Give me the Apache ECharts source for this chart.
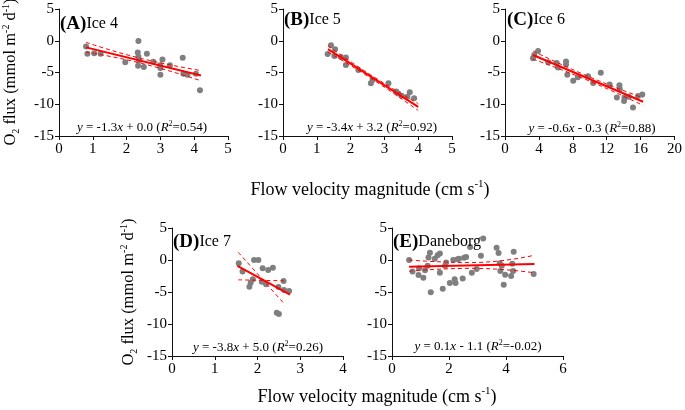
<!DOCTYPE html>
<html>
<head>
<meta charset="utf-8">
<script src="https://cdn.jsdelivr.net/npm/echarts@6.0.0/dist/echarts.min.js"></script>
<style>html,body{margin:0;padding:0;background:#fff}#c{width:685px;height:410px}</style>
</head>
<body>
<div id="c"></div>
<script>
// ---- tick labels ----
const yTicks = [-15, -10, -5, 0, 5];
const xTicksA = [0, 1, 2, 3, 4, 5];
const xTicksB = [0, 1, 2, 3, 4, 5];
const xTicksC = [0, 4, 8, 12, 16, 20];
const xTicksD = [0, 1, 2, 3, 4];
const xTicksE = [0, 2, 4, 6];

// ---- panel titles & equations ----
const panelTags = ['(A)', '(B)', '(C)', '(D)', '(E)'];
const panelNames = ['Ice 4', 'Ice 5', 'Ice 6', 'Ice 7', 'Daneborg'];
const slopes = ['-1.3', '-3.4', '-0.6', '-3.8', '0.1'];
const intercepts = ['+ 0.0', '+ 3.2', '- 0.3', '+ 5.0', '- 1.1'];
const r2s = ['0.54', '0.92', '0.88', '0.26', '-0.02'];

// ---- Ice 4 ----
const ice4Points = [[0.80,-0.9],[0.84,-2.05],[1.04,-1.95],[1.23,-2.05],[1.96,-3.4],[2.35,-0.05],[2.33,-1.85],[2.35,-2.5],[2.37,-3.1],[2.34,-3.95],[2.51,-4.15],[2.60,-2.05],[2.79,-3.3],[2.99,-3.85],[3.00,-4.3],[3.06,-2.95],[3.00,-5.35],[3.28,-3.85],[3.66,-2.68],[3.68,-5.2],[3.80,-5.35],[4.05,-5.2],[4.17,-7.8]];
const ice4Fit = [[0.8,-1.04],[4.2,-5.46]];
const ice4Upper = [[0.8,-0.25],[2.4,-2.75],[4.2,-4.7]];
const ice4Lower = [[0.8,-1.8],[2.4,-3.5],[4.2,-6.3]];

// ---- Ice 5 ----
const ice5Points = [[1.42,-0.7],[1.32,-2.1],[1.54,-1.35],[1.52,-2.4],[1.71,-2.55],[1.86,-2.65],[1.86,-3.8],[2.23,-4.6],[2.60,-6.7],[2.65,-6.2],[3.12,-6.7],[3.35,-8.0],[3.41,-8.3],[3.51,-8.65],[3.75,-8.1],[3.68,-8.8],[3.88,-9.05]];
const ice5Fit = [[1.33,-1.32],[4.0,-10.4]];
const ice5Upper = [[1.33,-0.8],[2.6,-5.4],[4.0,-9.9]];
const ice5Lower = [[1.33,-1.8],[2.6,-5.9],[4.0,-11.0]];

// ---- Ice 6 ----
const ice6Points = [[3.3,-2.75],[3.45,-2.25],[3.9,-1.6],[5.1,-3.4],[6.1,-3.5],[6.25,-4.2],[7.2,-3.25],[7.2,-3.75],[7.35,-5.35],[8.05,-6.3],[8.6,-5.75],[9.8,-5.6],[10.4,-6.65],[11.3,-5.05],[12.35,-6.9],[13.5,-7.0],[13.55,-7.6],[13.2,-8.95],[14.1,-8.95],[14.05,-9.5],[14.6,-8.8],[15.1,-10.5],[15.7,-8.7],[16.2,-8.45]];
const ice6Fit = [[3.3,-2.25],[16.3,-9.6]];
const ice6Upper = [[3.3,-1.6],[9.8,-5.6],[16.3,-9.0]];
const ice6Lower = [[3.3,-2.9],[9.8,-6.25],[16.3,-10.2]];

// ---- Ice 7 ----
const ice7Points = [[1.56,-0.5],[1.65,-1.8],[1.92,0.0],[2.02,0.0],[2.12,-1.3],[2.25,-1.57],[2.36,-1.2],[1.89,-3.0],[1.84,-3.55],[1.81,-4.17],[2.10,-3.4],[2.20,-3.8],[2.49,-4.2],[2.61,-3.3],[2.62,-4.7],[2.74,-4.85],[2.45,-8.25],[2.50,-8.45]];
const ice7Fit = [[1.53,-0.9],[2.76,-5.4]];
const ice7Upper = [[1.55,1.2],[2.62,-6.8]];
const ice7Lower = [[1.55,-3.1],[2.62,-3.25]];

// ---- Daneborg ----
const danePoints = [[0.6,0.0],[0.72,-1.8],[0.93,-2.35],[0.95,-1.3],[1.1,-2.76],[1.16,-1.6],[1.25,-0.9],[1.28,0.4],[1.33,1.15],[1.36,-5.05],[1.5,0.2],[1.6,0.75],[1.68,1.0],[1.68,-2.0],[1.78,-4.5],[1.86,-0.9],[1.9,-0.4],[2.03,-3.6],[2.15,0.0],[2.2,-3.0],[2.23,-3.6],[2.3,0.1],[2.35,0.2],[2.48,-2.9],[2.53,0.35],[2.6,0.45],[2.74,2.05],[2.8,-2.0],[2.97,-1.4],[3.12,0.65],[3.2,3.35],[3.67,1.9],[3.74,1.1],[3.78,-0.5],[3.8,-1.7],[3.85,-0.9],[3.92,-3.85],[3.97,-2.3],[4.18,-2.5],[4.22,-0.6],[4.25,-1.7],[4.27,1.3],[4.97,-2.2]];
const daneFit = [[0.6,-1.04],[5.0,-0.62]];
const daneUpper = [[0.6,0.0],[2.8,-0.4],[5.0,0.75]];
const daneLower = [[0.6,-1.75],[2.8,-1.3],[5.0,-2.0]];

const panels = [
  {pts: ice4Points, fit: ice4Fit, up: ice4Upper, lo: ice4Lower, xt: xTicksA},
  {pts: ice5Points, fit: ice5Fit, up: ice5Upper, lo: ice5Lower, xt: xTicksB},
  {pts: ice6Points, fit: ice6Fit, up: ice6Upper, lo: ice6Lower, xt: xTicksC},
  {pts: ice7Points, fit: ice7Fit, up: ice7Upper, lo: ice7Lower, xt: xTicksD},
  {pts: danePoints, fit: daneFit, up: daneUpper, lo: daneLower, xt: xTicksE}
];

// ---- layout ----
const FONT = 'Liberation Serif';
const grids = [
  {left: 59, top: 9, width: 169, height: 127},
  {left: 283, top: 9, width: 169, height: 127},
  {left: 505, top: 9, width: 170, height: 127},
  {left: 172, top: 228, width: 171, height: 128},
  {left: 392, top: 228, width: 171, height: 128}
];
const tagPos = [[60,24],[284,20],[507,20],[173,242],[393,242]];
const eqPos = [[142,128],[372,128],[592,129],[258,348],[478,347]];

const xAxis = [], yAxis = [], series = [], graphic = [];
panels.forEach((p, i) => {
  xAxis.push({
    type: 'value', gridIndex: i, min: p.xt[0], max: p.xt[p.xt.length-1],
    interval: p.xt[1]-p.xt[0],
    axisLine: {show: true, onZero: false, lineStyle: {color: '#111', width: 1}},
    axisTick: {show: true, inside: false, length: 4, lineStyle: {color: '#111'}},
    splitLine: {show: false},
    axisLabel: {show: true, color: '#000', fontFamily: FONT, fontSize: 15, margin: 6}
  });
  yAxis.push({
    type: 'value', gridIndex: i, min: yTicks[0], max: yTicks[yTicks.length-1],
    interval: yTicks[1]-yTicks[0],
    axisLine: {show: true, onZero: false, lineStyle: {color: '#111', width: 1}},
    axisTick: {show: true, inside: false, length: 4, lineStyle: {color: '#111'}},
    splitLine: {show: false},
    axisLabel: {show: true, color: '#000', fontFamily: FONT, fontSize: 15, margin: 5}
  });
  series.push({type: 'scatter', xAxisIndex: i, yAxisIndex: i, data: p.pts,
    symbolSize: 6, itemStyle: {color: '#7f7f7f', opacity: 1}, z: 2});
  series.push({type: 'line', xAxisIndex: i, yAxisIndex: i, data: p.up, smooth: true,
    showSymbol: false, lineStyle: {color: '#ff0000', width: 1, type: [4,3]}, z: 3});
  series.push({type: 'line', xAxisIndex: i, yAxisIndex: i, data: p.lo, smooth: true,
    showSymbol: false, lineStyle: {color: '#ff0000', width: 1, type: [4,3]}, z: 3});
  series.push({type: 'line', xAxisIndex: i, yAxisIndex: i, data: p.fit,
    showSymbol: false, lineStyle: {color: '#ff0000', width: 2}, z: 4});

  graphic.push({type: 'text', x: tagPos[i][0], y: tagPos[i][1], z: 10,
    style: {text: '{b|' + panelTags[i] + '}{n|' + panelNames[i] + '}',
      align: 'left', verticalAlign: 'middle', fill: '#000',
      rich: {b: {fontFamily: FONT, fontSize: 19, fontWeight: 'bold', fill: '#000'},
             n: {fontFamily: FONT, fontSize: 16, fill: '#000'}}}});
  graphic.push({type: 'text', x: eqPos[i][0], y: eqPos[i][1], z: 10,
    style: {text: '{i|y}{n| = ' + slopes[i] + '}{i|x}{n| ' + intercepts[i] + ' (}{i|R}{s|2}{n|=' + r2s[i] + ')}',
      align: 'center', verticalAlign: 'middle', fill: '#000',
      rich: {n: {fontFamily: FONT, fontSize: 13, lineHeight: 16, fill: '#000'},
             i: {fontFamily: FONT, fontSize: 13, lineHeight: 16, fontStyle: 'italic', fill: '#000'},
             s: {fontFamily: FONT, fontSize: 8, lineHeight: 8, verticalAlign: 'top', fill: '#000'}}}});
});

const yTitle = '{n|O}{sub|2}{n| flux (mmol m}{sup|-2}{n| d}{sup|-1}{n|)}';
const xTitle = '{n|Flow velocity magnitude (cm s}{sup|-1}{n|)}';
const titleRich = {
  n: {fontFamily: FONT, fontSize: 18, lineHeight: 22, fill: '#000'},
  sup: {fontFamily: FONT, fontSize: 11, lineHeight: 11, verticalAlign: 'top', fill: '#000'},
  sub: {fontFamily: FONT, fontSize: 11, lineHeight: 11, verticalAlign: 'bottom', fill: '#000'}
};
const yTitleRich = {
  n: {fontFamily: FONT, fontSize: 16.5, lineHeight: 20, fill: '#000'},
  sup: {fontFamily: FONT, fontSize: 10, lineHeight: 10, verticalAlign: 'top', fill: '#000'},
  sub: {fontFamily: FONT, fontSize: 10, lineHeight: 10, verticalAlign: 'bottom', fill: '#000'}
};
[[11,72],[129,292]].forEach(pos => {
  graphic.push({type: 'text', x: pos[0], y: pos[1], rotation: Math.PI/2, z: 10,
    style: {text: yTitle, align: 'center', verticalAlign: 'middle', rich: yTitleRich, fill: '#000'}});
});
[[370,190],[377,397]].forEach(pos => {
  graphic.push({type: 'text', x: pos[0], y: pos[1], z: 10,
    style: {text: xTitle, align: 'center', verticalAlign: 'middle', rich: titleRich, fill: '#000'}});
});

const chart = echarts.init(document.getElementById('c'), null, {renderer: 'canvas'});
chart.setOption({
  animation: false,
  backgroundColor: '#fff',
  textStyle: {fontFamily: FONT, fontSize: 15, color: '#000'},
  grid: grids,
  xAxis: xAxis,
  yAxis: yAxis,
  series: series,
  graphic: graphic
});
</script>
</body>
</html>
